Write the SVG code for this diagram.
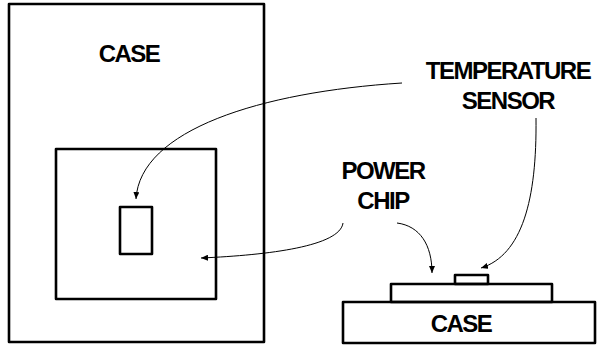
<svg xmlns="http://www.w3.org/2000/svg" width="598" height="347" viewBox="0 0 598 347">
<defs>
<style>
.box{fill:none;stroke:#000;stroke-width:2.6;stroke-linejoin:round}
.lbl{font-family:"Liberation Sans",Arial,sans-serif;font-weight:bold;font-size:24px;letter-spacing:-1.5px;fill:#000;text-anchor:middle}
.con{fill:none;stroke:#000;stroke-width:1}
</style>
<marker id="ah" markerWidth="8" markerHeight="6" refX="7" refY="3" orient="auto" markerUnits="userSpaceOnUse">
<path d="M0,0 L7,3 L0,6 Z" fill="#000"/>
</marker>
</defs>
<rect width="598" height="347" fill="#fff"/>
<g id="case-top">
<rect class="box" x="9" y="4" width="255" height="338"/>
<text class="lbl" x="129" y="62">CASE</text>
</g>
<g id="chip-top">
<rect class="box" x="56" y="149" width="160" height="150"/>
</g>
<g id="sensor-top">
<rect class="box" x="120" y="207" width="32" height="47"/>
</g>
<g id="case-side">
<rect class="box" x="343" y="302" width="252" height="41"/>
<text class="lbl" x="461" y="332">CASE</text>
</g>
<g id="chip-side">
<rect class="box" x="391" y="284" width="161" height="18"/>
</g>
<g id="sensor-side">
<rect class="box" x="455" y="275" width="33" height="9"/>
</g>
<g id="label-sensor">
<text class="lbl" x="508" y="79">TEMPERATURE</text>
<text class="lbl" x="508" y="109">SENSOR</text>
</g>
<g id="label-chip">
<text class="lbl" x="383" y="179">POWER</text>
<text class="lbl" x="383" y="209">CHIP</text>
</g>
<g id="connectors">
<path class="con" d="M402,83 C260,92 140,130 136,199" marker-end="url(#ah)"/>
<path class="con" d="M343,223 C340,246 270,255 201,258" marker-end="url(#ah)"/>
<path class="con" d="M397,223 C420,226 432,245 432,273" marker-end="url(#ah)"/>
<path class="con" d="M536,118 C537,200 522,255 481,268" marker-end="url(#ah)"/>
</g>
</svg>
